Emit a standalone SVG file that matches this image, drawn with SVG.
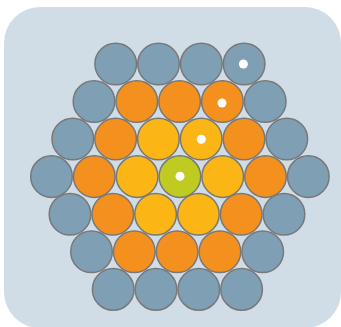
<svg xmlns="http://www.w3.org/2000/svg" width="341" height="327" viewBox="0 0 341 327">
<style>
circle{stroke:#787878;stroke-width:1.5}
.b{fill:#7f9fb4}.o{fill:#f4901e}.y{fill:#fbb514}.g{fill:#c0cb22}
.d{fill:#fff;stroke:none}
</style>
<rect x="4" y="7" width="337" height="321" rx="36" fill="#d1dde6"/>
<g id="row1">
<circle class="b" cx="115.7" cy="64" r="20.8"/><circle class="b" cx="158.5" cy="64" r="20.8"/><circle class="b" cx="201.3" cy="64" r="20.8"/><circle class="b" cx="244.1" cy="64" r="20.8"/>
</g>
<g id="row2">
<circle class="b" cx="94" cy="101.5" r="20.8"/><circle class="o" cx="136.8" cy="101.5" r="20.8"/><circle class="o" cx="179.6" cy="101.5" r="20.8"/><circle class="o" cx="222.4" cy="101.5" r="20.8"/><circle class="b" cx="265.2" cy="101.5" r="20.8"/>
</g>
<g id="row3">
<circle class="b" cx="72.8" cy="139" r="20.8"/><circle class="o" cx="115.6" cy="139" r="20.8"/><circle class="y" cx="158.4" cy="139" r="20.8"/><circle class="y" cx="201.2" cy="139" r="20.8"/><circle class="o" cx="244" cy="139" r="20.8"/><circle class="b" cx="286.8" cy="139" r="20.8"/>
</g>
<g id="row4">
<circle class="b" cx="51.5" cy="176.6" r="20.8"/><circle class="o" cx="94.3" cy="176.6" r="20.8"/><circle class="y" cx="137.1" cy="176.6" r="20.8"/><circle class="g" cx="179.9" cy="176.6" r="20.8"/><circle class="y" cx="222.7" cy="176.6" r="20.8"/><circle class="o" cx="265.5" cy="176.6" r="20.8"/><circle class="b" cx="308.3" cy="176.6" r="20.8"/>
</g>
<g id="row5">
<circle class="b" cx="70" cy="214.2" r="20.8"/><circle class="o" cx="112.8" cy="214.2" r="20.8"/><circle class="y" cx="155.6" cy="214.2" r="20.8"/><circle class="y" cx="198.4" cy="214.2" r="20.8"/><circle class="o" cx="241.2" cy="214.2" r="20.8"/><circle class="b" cx="284" cy="214.2" r="20.8"/>
</g>
<g id="row6">
<circle class="b" cx="91.5" cy="251.8" r="20.8"/><circle class="o" cx="134.3" cy="251.8" r="20.8"/><circle class="o" cx="177.1" cy="251.8" r="20.8"/><circle class="o" cx="219.9" cy="251.8" r="20.8"/><circle class="b" cx="262.7" cy="251.8" r="20.8"/>
</g>
<g id="row7">
<circle class="b" cx="113.2" cy="289.4" r="20.8"/><circle class="b" cx="156" cy="289.4" r="20.8"/><circle class="b" cx="198.8" cy="289.4" r="20.8"/><circle class="b" cx="241.6" cy="289.4" r="20.8"/>
</g>
<g id="dots">
<circle class="d" cx="243.4" cy="64" r="4.5"/><circle class="d" cx="222" cy="103" r="4.5"/><circle class="d" cx="201.3" cy="139.3" r="4.5"/><circle class="d" cx="180" cy="176.3" r="4.5"/>
</g>
</svg>
